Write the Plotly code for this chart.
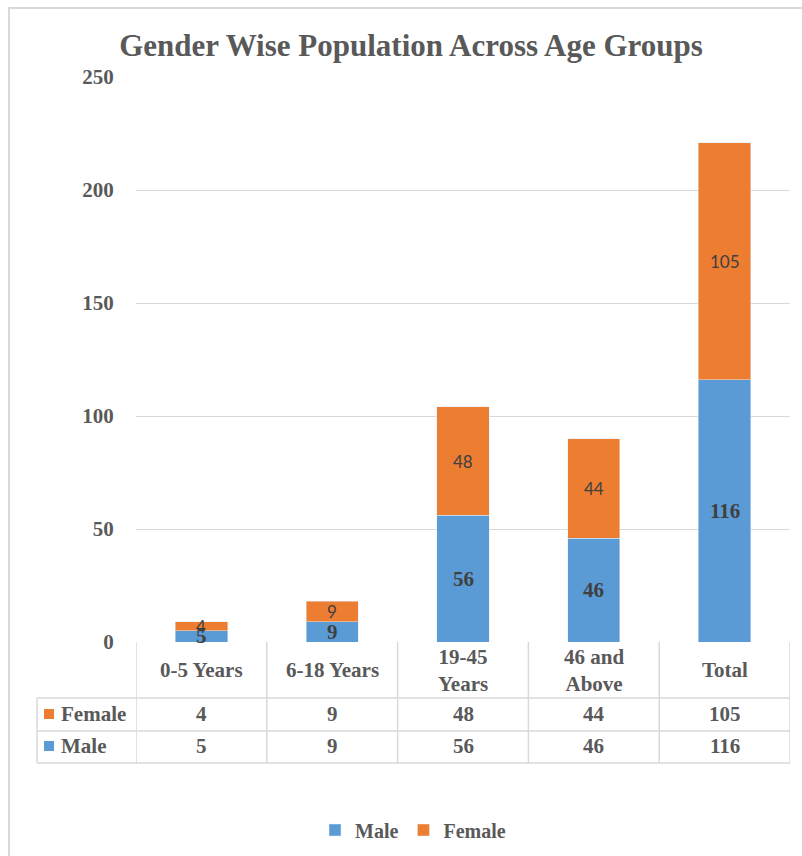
import plotly.graph_objects as go

categories = ["0-5 Years", "6-18 Years", "19-45 Years", "46 and Above", "Total"]
table_labels = ["0-5 Years", "6-18 Years", "19-45<br>Years", "46 and<br>Above", "Total"]
male = [5, 9, 56, 46, 116]
female = [4, 9, 48, 44, 105]
series_names = ["Male", "Female"]
y_ticks = [0, 50, 100, 150, 200, 250]

MALE_C = "#5B9BD5"
FEMALE_C = "#ED7D31"
GRID_C = "#D9D9D9"
TXT_C = "#595959"
LBL_C = "#404040"
SERIF = "Liberation Serif"
SANS = "Lato"

W, H = 802, 856
L, R, T, B = 136, 12, 77, 214
PW = W - L - R
PH = H - T - B


def px(x):
    return (x - L) / PW


def py(y):
    return (H - B - y) / PH


fig = go.Figure()
fig.add_trace(go.Bar(x=categories, y=male, name=series_names[0], marker_color=MALE_C,
                     width=0.4))
fig.add_trace(go.Bar(x=categories, y=female, name=series_names[1], marker_color=FEMALE_C,
                     width=0.4))

# data labels
for i, (m, f) in enumerate(zip(male, female)):
    fig.add_annotation(x=i, y=m / 2, xref="x", yref="y", text=str(m), showarrow=False,
                       font=dict(family=SERIF, size=21, color=LBL_C, weight="bold"),
                       yanchor="middle")
    fig.add_annotation(x=i, y=m + f / 2, xref="x", yref="y", text=str(f), showarrow=False,
                       font=dict(family=SANS, size=17, color=LBL_C),
                       yanchor="middle")

shapes = []
line = dict(color=GRID_C, width=1.5)
# vertical table lines
for i in range(len(categories) + 1):
    shapes.append(dict(type="line", xref="x", yref="paper", x0=i - 0.5, x1=i - 0.5,
                       y0=py(642), y1=py(763), line=line))
# left label column
shapes.append(dict(type="line", xref="paper", yref="paper", x0=px(37), x1=px(37),
                   y0=py(698), y1=py(763), line=line))
for yy in (698, 731, 763):
    shapes.append(dict(type="line", xref="paper", yref="paper", x0=px(37), x1=px(790),
                       y0=py(yy), y1=py(yy), line=line))
# legend keys inside table
for yy, c in ((714, FEMALE_C), (746, MALE_C)):
    shapes.append(dict(type="rect", xref="paper", yref="paper", x0=px(44), x1=px(54),
                       y0=py(yy - 5), y1=py(yy + 5), fillcolor=c, line=dict(width=0)))
# outer chart border
shapes.append(dict(type="rect", xref="paper", yref="paper", x0=px(9), x1=px(830),
                   y0=py(8), y1=py(900), line=dict(color=GRID_C, width=2),
                   fillcolor="rgba(0,0,0,0)", layer="below"))
fig.update_layout(shapes=shapes)

tfont = dict(family=SERIF, size=21, color=TXT_C, weight="bold")
for i, lab in enumerate(table_labels):
    fig.add_annotation(x=i, y=py(670), xref="x", yref="paper", text=lab, showarrow=False,
                       font=tfont, yanchor="middle")
    fig.add_annotation(x=i, y=py(714), xref="x", yref="paper", text=str(female[i]),
                       showarrow=False, font=tfont, yanchor="middle")
    fig.add_annotation(x=i, y=py(746), xref="x", yref="paper", text=str(male[i]),
                       showarrow=False, font=tfont, yanchor="middle")
fig.add_annotation(x=px(59), y=py(714), xref="paper", yref="paper", text=series_names[1],
                   showarrow=False, font=tfont, xanchor="left", yanchor="middle")
fig.add_annotation(x=px(59), y=py(746), xref="paper", yref="paper", text=series_names[0],
                   showarrow=False, font=tfont, xanchor="left", yanchor="middle")

fig.update_layout(
    width=W, height=H,
    margin=dict(l=L, r=R, t=T, b=B, autoexpand=False),
    barmode="stack",
    plot_bgcolor="white", paper_bgcolor="white",
    title=dict(text="Gender Wise Population Across Age Groups", x=411 / W, xanchor="center",
               y=1 - 45 / H, yanchor="middle", xref="container", yref="container",
               font=dict(family=SERIF, size=31, color=TXT_C, weight="bold")),
    xaxis=dict(range=[-0.5, 4.5], showticklabels=False, showgrid=False, zeroline=False,
               showline=False, ticks=""),
    yaxis=dict(range=[0, 250], tickvals=y_ticks, showgrid=True, gridcolor=GRID_C,
               gridwidth=1, zeroline=False, showline=False, ticks="outside", ticklen=17,
               tickcolor="rgba(0,0,0,0)",
               tickfont=dict(family=SERIF, size=21, color=TXT_C, weight="bold")),
    legend=dict(orientation="h", x=px(413), xanchor="center", y=py(830), yanchor="middle",
                font=dict(family=SERIF, size=20, color=TXT_C, weight="bold"),
                traceorder="normal", itemwidth=30),
    bargap=0.6,
)

fig.write_html("out.html")
